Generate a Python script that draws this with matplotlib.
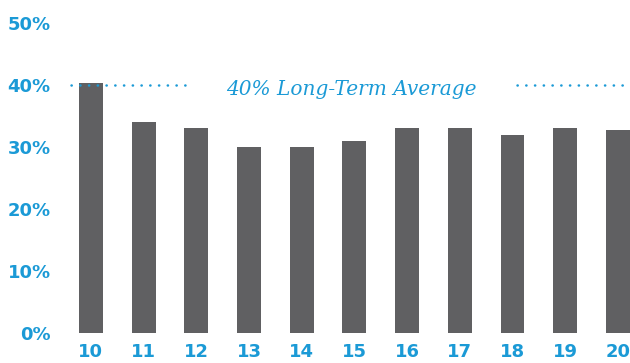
import matplotlib
matplotlib.use("Agg")
import matplotlib.pyplot as plt

# ── Data ─────────────────────────────────────────────────────────────────────
years = [10, 11, 12, 13, 14, 15, 16, 17, 18, 19, 20]
values = [40.3, 34.0, 33.0, 30.0, 30.0, 31.0, 33.0, 33.0, 32.0, 33.0, 32.7]
y_ticks = [0, 10, 20, 30, 40, 50]
avg_value = 40
avg_label = "40% Long-Term Average"

BLUE = "#1b9ad6"
GREY = "#606062"

fig = plt.figure(figsize=(6.3, 3.63), dpi=100)
ax = fig.add_axes([0.1025, 30 / 363, 0.8975, 333 / 363])

ax.bar(years, values, width=0.455, color=GREY)

ax.set_xlim(9.5, 20.23)
ax.set_ylim(0, 53.7)

ax.set_xticks(years)
ax.set_xticklabels([str(y) for y in years])
ax.set_yticks(y_ticks)
ax.set_yticklabels([f"{v}%" for v in y_ticks])
ax.tick_params(axis="both", length=0, colors=BLUE, labelsize=13)
ax.tick_params(axis="x", pad=7)
ax.tick_params(axis="y", pad=10)
for lbl in ax.get_xticklabels() + ax.get_yticklabels():
    lbl.set_fontweight("bold")
for s in ax.spines.values():
    s.set_visible(False)

# long-term average: dotted line broken by label
dot = dict(color=BLUE, linewidth=1.8, linestyle=(0, (0.1, 3.4)),
           dash_capstyle="round", clip_on=False)
ax.plot([9.62, 11.82], [avg_value, avg_value], **dot)
ax.plot([18.08, 20.23], [avg_value, avg_value], **dot)
ax.annotate(avg_label, (14.95, avg_value), xytext=(0, -3),
            textcoords="offset points", color=BLUE, fontsize=14.5,
            family="DejaVu Serif", style="italic", ha="center", va="center")

plt.savefig("out.png", dpi=100)
